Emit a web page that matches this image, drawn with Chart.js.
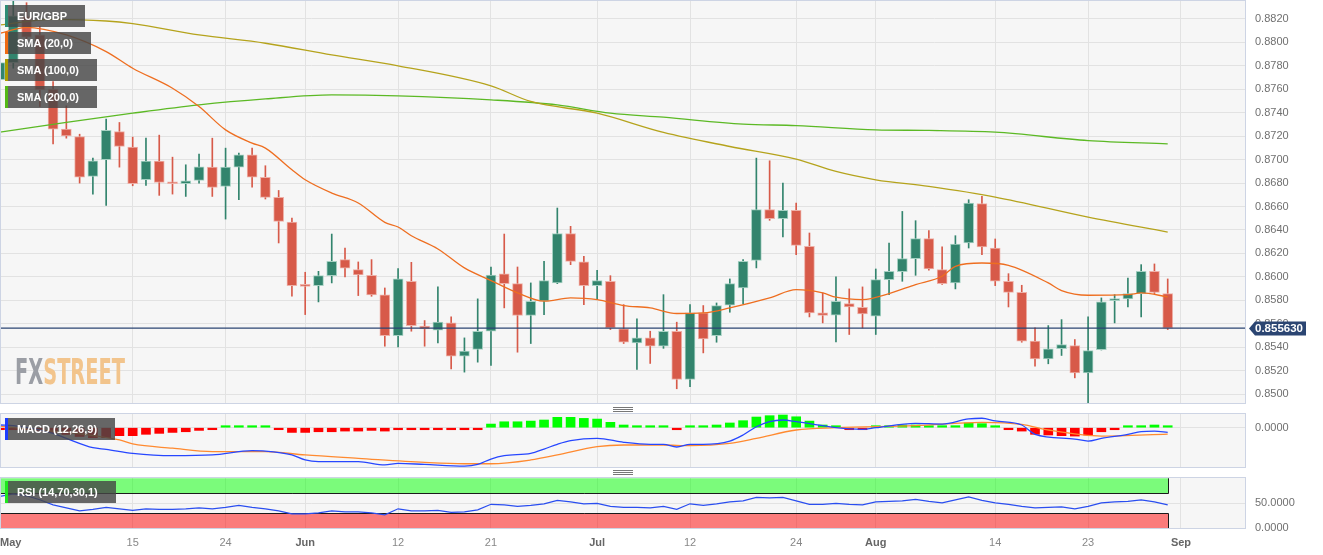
<!DOCTYPE html>
<html>
<head>
<meta charset="utf-8">
<title>EUR/GBP daily</title>
<script src="https://cdn.jsdelivr.net/npm/chart.js@4.4.0/dist/chart.umd.min.js"></script>
<style>
  body { margin: 0; background: #fff; font-family: "Liberation Sans", Arial, sans-serif; }
  #wrap { position: relative; width: 1323px; height: 555px; overflow: hidden; }
  canvas { position: absolute; left: 0; }
  .tag { position: absolute; left: 5px; height: 22px; line-height: 22px; padding: 0 18px 0 9px;
         border-left: 3px solid; background: rgba(70,70,70,0.82); color: #fff;
         font-size: 11px; font-weight: bold; white-space: nowrap; }
  .grip { position: absolute; left: 613px; width: 20px; height: 3px;
          border-top: 1px solid #777; border-bottom: 1px solid #777; }
  .grip:after { content: ''; position: absolute; left: 0; right: 0; top: 1px; border-top: 1px solid #777; }
</style>
</head>
<body>
<div id="wrap">
  <canvas id="main" width="1323" height="405" style="top:0"></canvas>
  <canvas id="macd" width="1323" height="55" style="top:413px"></canvas>
  <canvas id="rsi" width="1323" height="79" style="top:476px"></canvas>

  <div class="tag" style="top:5px;border-color:#2d8c74">EUR/GBP</div>
  <div class="tag" style="top:32px;border-color:#ee6a12">SMA (20,0)</div>
  <div class="tag" style="top:59px;border-color:#ab9c00">SMA (100,0)</div>
  <div class="tag" style="top:86px;border-color:#53b816">SMA (200,0)</div>
  <div class="tag" style="top:418px;border-color:#1c3dff">MACD (12,26,9)</div>
  <div class="tag" style="top:481px;border-color:#1ee81e">RSI (14,70,30,1)</div>
  <div class="grip" style="top:407px"></div>
  <div class="grip" style="top:470px"></div>
</div>

<script>
// trading days from 1 May to 31 Aug 2023, index 0 = May 1
const tickIdx = [0, 10, 17, 23, 30, 37, 45, 52, 60, 66, 75, 82, 89];
const tickLabels = ['May', '15', '24', 'Jun', '12', '21', 'Jul', '12', '24', 'Aug', '14', '23', 'Sep'];
const monthLabels = ['May', 'Jun', 'Jul', 'Aug', 'Sep'];
const priceTicks = [0.850, 0.852, 0.854, 0.856, 0.858, 0.860, 0.862, 0.864, 0.866, 0.868,
                    0.870, 0.872, 0.874, 0.876, 0.878, 0.880, 0.882];
const xMax = 93.9;

const open = [0.87683, 0.87828, 0.88220, 0.88064, 0.87601, 0.87260, 0.87197, 0.86857, 0.86999, 0.87240,
              0.87107, 0.86828, 0.86987, 0.86803, 0.86794, 0.86823, 0.86936, 0.86771, 0.86936, 0.87041,
              0.86848, 0.86678, 0.86468, 0.85920, 0.85925, 0.86010, 0.86147, 0.86062, 0.86013, 0.85846,
              0.85499, 0.85962, 0.85579, 0.85545, 0.85607, 0.85323, 0.85380, 0.85536, 0.86025, 0.85942,
              0.85670, 0.85792, 0.85948, 0.86368, 0.86127, 0.85925, 0.85962, 0.85556, 0.85437, 0.85479,
              0.85408, 0.85536, 0.85124, 0.85692, 0.85499, 0.85758, 0.85905, 0.86141, 0.86573, 0.86496,
              0.86567, 0.86260, 0.85692, 0.85672, 0.85772, 0.85740, 0.85664, 0.85976, 0.86044, 0.86155,
              0.86326, 0.86062, 0.85948, 0.86289, 0.86624, 0.86246, 0.85962, 0.85868, 0.85451, 0.85300,
              0.85388, 0.85414, 0.85181, 0.85379, 0.85797, 0.85812, 0.85857, 0.86047, 0.85857];
const high = [0.87880, 0.88355, 0.88339, 0.88135, 0.87666, 0.87459, 0.87217, 0.87013, 0.87345, 0.87317,
              0.87192, 0.87183, 0.87209, 0.87021, 0.86956, 0.87047, 0.87183, 0.87098, 0.87055, 0.87098,
              0.86948, 0.86737, 0.86502, 0.86039, 0.86047, 0.86365, 0.86246, 0.86127, 0.86147, 0.85905,
              0.86070, 0.86124, 0.85627, 0.85914, 0.85658, 0.85479, 0.85812, 0.86084, 0.86365, 0.86084,
              0.85948, 0.86132, 0.86587, 0.86431, 0.86175, 0.86056, 0.86010, 0.85763, 0.85641, 0.85536,
              0.85848, 0.85613, 0.85763, 0.85755, 0.85777, 0.85982, 0.86147, 0.87013, 0.86990, 0.86800,
              0.86630, 0.86374, 0.85863, 0.85999, 0.85897, 0.85914, 0.86067, 0.86289, 0.86558, 0.86479,
              0.86394, 0.86255, 0.86351, 0.86658, 0.86686, 0.86323, 0.86027, 0.85928, 0.85564, 0.85584,
              0.85635, 0.85465, 0.85658, 0.85820, 0.85848, 0.85990, 0.86104, 0.86110, 0.85982];
const low = [0.87600, 0.87780, 0.88021, 0.87453, 0.87135, 0.87183, 0.86800, 0.86706, 0.86610, 0.86936,
             0.86777, 0.86780, 0.86695, 0.86706, 0.86686, 0.86800, 0.86686, 0.86493, 0.86658, 0.86766,
             0.86664, 0.86289, 0.85834, 0.85678, 0.85786, 0.85948, 0.85999, 0.85840, 0.85834, 0.85408,
             0.85402, 0.85536, 0.85408, 0.85437, 0.85215, 0.85187, 0.85272, 0.85244, 0.85735, 0.85357,
             0.85431, 0.85678, 0.85942, 0.86104, 0.85763, 0.85806, 0.85550, 0.85431, 0.85209, 0.85261,
             0.85390, 0.85045, 0.85062, 0.85351, 0.85442, 0.85698, 0.85772, 0.86076, 0.86482, 0.86340,
             0.86189, 0.85658, 0.85607, 0.85445, 0.85508, 0.85564, 0.85508, 0.85848, 0.85962, 0.86013,
             0.86056, 0.85936, 0.85897, 0.86246, 0.86189, 0.85925, 0.85743, 0.85442, 0.85238, 0.85258,
             0.85329, 0.85138, 0.84925, 0.85376, 0.85607, 0.85743, 0.85658, 0.85857, 0.85550];
const close = [0.87828, 0.88226, 0.88044, 0.87595, 0.87260, 0.87203, 0.86851, 0.86990, 0.87249, 0.87112,
               0.86794, 0.86987, 0.86806, 0.86794, 0.86820, 0.86939, 0.86763, 0.86936, 0.87041, 0.86851,
               0.86678, 0.86473, 0.85925, 0.85919, 0.86010, 0.86132, 0.86073, 0.86016, 0.85846, 0.85499,
               0.85982, 0.85584, 0.85556, 0.85613, 0.85323, 0.85366, 0.85536, 0.86016, 0.85942, 0.85670,
               0.85792, 0.85968, 0.86368, 0.86132, 0.85925, 0.85968, 0.85564, 0.85442, 0.85479, 0.85408,
               0.85536, 0.85124, 0.85692, 0.85471, 0.85755, 0.85942, 0.86132, 0.86573, 0.86496, 0.86567,
               0.86269, 0.85692, 0.85670, 0.85792, 0.85743, 0.85684, 0.85976, 0.86047, 0.86155, 0.86326,
               0.86067, 0.85942, 0.86280, 0.86630, 0.86255, 0.85962, 0.85868, 0.85451, 0.85300, 0.85386,
               0.85422, 0.85181, 0.85371, 0.85786, 0.85809, 0.85857, 0.86047, 0.85868, 0.85563];

// moving averages, [day index, value]
const sma20 = [[0, 0.88078], [2, 0.88129], [5, 0.88064], [8, 0.87922], [10, 0.87780], [13, 0.87609],
               [15, 0.87453], [17, 0.87254], [19, 0.87141], [20, 0.87098], [22, 0.86913], [23, 0.86828],
               [25, 0.86715], [27, 0.86630], [29, 0.86465], [30, 0.86425], [31, 0.86351], [33, 0.86238],
               [35, 0.86076], [37, 0.85968], [39, 0.85863], [41, 0.85792], [43, 0.85820], [45, 0.85806],
               [47, 0.85755], [49, 0.85735], [51, 0.85687], [53, 0.85692], [55, 0.85735], [58, 0.85820],
               [60, 0.85891], [62, 0.85863], [63, 0.85826], [65, 0.85806], [67, 0.85857], [69, 0.85934],
               [71, 0.86005], [72, 0.86090], [74, 0.86118], [76, 0.86098], [79, 0.85948], [80, 0.85883],
               [82, 0.85843], [85, 0.85848], [86, 0.85863], [88, 0.85829]];
const sma100 = [[0, 0.88149], [4, 0.88197], [8, 0.88183], [10, 0.88160], [15, 0.88064], [20, 0.87993],
                [25, 0.87893], [30, 0.87800], [37, 0.87629], [40, 0.87496], [45, 0.87396], [50, 0.87232],
                [55, 0.87112], [60, 0.87004], [63, 0.86899], [66, 0.86828], [70, 0.86771], [75, 0.86681],
                [82, 0.86510], [88, 0.86382]];
const sma200 = [[0, 0.87234], [5, 0.87317], [10, 0.87396], [15, 0.87467], [20, 0.87518], [25, 0.87552],
                [30, 0.87544], [37, 0.87510], [42, 0.87467], [46, 0.87396], [50, 0.87362], [56, 0.87303],
                [60, 0.87291], [66, 0.87254], [70, 0.87249], [75, 0.87234], [82, 0.87163], [88, 0.87135]];

// MACD (12,26,9)
const macdLine = [[0, 0.00020], [1, 0.00015], [4, -0.00042], [5, -0.00079], [7, -0.00148], [8, -0.00160],
                  [10, -0.00190], [13, -0.00207], [16, -0.00202], [19, -0.00170], [20, -0.00173], [22, -0.00202],
                  [23, -0.00239], [24, -0.00251], [27, -0.00251], [29, -0.00276], [30, -0.00264], [32, -0.00272],
                  [35, -0.00284], [36, -0.00272], [37, -0.00232], [38, -0.00207], [40, -0.00190], [41, -0.00158],
                  [42, -0.00123], [43, -0.00096], [45, -0.00079], [47, -0.00108], [49, -0.00123], [50, -0.00123],
                  [51, -0.00143], [52, -0.00123], [53, -0.00123], [55, -0.00099], [56, -0.00054], [57, 0.00007],
                  [58, 0.00045], [59, 0.00057], [60, 0.00045], [62, 0.00015], [63, 0.00000], [65, -0.00012],
                  [66, 0.00000], [69, 0.00032], [71, 0.00027], [73, 0.00065], [74, 0.00070], [75, 0.00050],
                  [77, 0.00020], [78, -0.00049], [81, -0.00084], [82, -0.00099], [83, -0.00079], [85, -0.00049],
                  [86, -0.00029], [87, -0.00025], [88, -0.00035]];
const signalLine = [[0, 0.00012], [9, -0.00091], [10, -0.00120], [13, -0.00152], [16, -0.00177], [19, -0.00177],
                    [20, -0.00177], [23, -0.00202], [27, -0.00227], [32, -0.00257], [35, -0.00267], [37, -0.00267],
                    [40, -0.00239], [42, -0.00202], [45, -0.00140], [47, -0.00128], [50, -0.00128], [52, -0.00133],
                    [55, -0.00116], [57, -0.00079], [60, -0.00017], [63, 0.00000], [69, 0.00015], [74, 0.00040],
                    [77, 0.00025], [79, -0.00017], [83, -0.00062], [88, -0.00047]];
const macdHist = [-0.00005, -0.00008, -0.00015, -0.00025, -0.00035, -0.00050, -0.00065, -0.00074, -0.00074, -0.00059,
                  -0.00059, -0.00049, -0.00042, -0.00035, -0.00030, -0.00020, -0.00010, 0.00005, 0.00010, 0.00010,
                  0.00005, -0.00005, -0.00035, -0.00035, -0.00030, -0.00030, -0.00025, -0.00025, -0.00020, -0.00025,
                  -0.00015, -0.00015, -0.00015, -0.00015, -0.00015, -0.00015, -0.00005, 0.00027, 0.00044, 0.00044,
                  0.00049, 0.00057, 0.00077, 0.00077, 0.00069, 0.00064, 0.00040, 0.00020, 0.00010, 0.00003,
                  0.00003, -0.00015, 0.00003, 0.00005, 0.00020, 0.00035, 0.00052, 0.00079, 0.00089, 0.00094,
                  0.00081, 0.00049, 0.00020, 0.00010, -0.00005, -0.00010, 0.00003, 0.00005, 0.00020, 0.00020,
                  0.00010, 0.00015, 0.00015, 0.00035, 0.00030, 0.00010, -0.00005, -0.00025, -0.00049, -0.00054,
                  -0.00059, -0.00062, -0.00054, -0.00030, -0.00015, 0.00002, 0.00015, 0.00020, 0.00010];

// RSI (14)
const rsi = [64, 69, 65, 57, 47, 41, 35, 38, 42, 39,
             36, 39, 38, 38, 39, 41, 39, 42, 46, 42,
             39, 35, 29, 29, 31, 35, 33, 33, 31, 27,
             39, 35, 35, 36, 32, 33, 37, 48, 47, 44,
             46, 49, 56, 53, 49, 50, 44, 42, 42, 41,
             44, 38, 49, 46, 49, 53, 55, 62, 61, 62,
             55, 48, 48, 50, 48, 47, 53, 54, 55, 58,
             54, 51, 57, 63, 56, 51, 48, 44, 41, 42,
             43, 39, 44, 51, 53, 54, 57, 53, 47];
const rsiUpper = 70;
const rsiLower = 30;

const lastPrice = close[close.length - 1];

Chart.defaults.font.family = '"Liberation Sans", Arial, sans-serif';
Chart.defaults.font.size = 11;
Chart.defaults.color = '#707070';

const gridColor = '#e2e2e2';
const upCol = '#32846d', downCol = '#d75a49';
const upEdge = '#a6d1c3', downEdge = '#eeb0a7';
const candleCol = close.map((c, i) => c >= open[i] ? upCol : downCol);
const candleEdge = close.map((c, i) => c >= open[i] ? upEdge : downEdge);

function pts(list) {
    return list.map(p => ({x: p[0], y: p[1]}));
}

function xAxis(showLabels) {
    return {
        type: 'linear', min: 0, max: xMax, offset: false,
        afterBuildTicks: s => { s.ticks = tickIdx.map(v => ({value: v})).concat([{value: xMax}]); },
        grid: { color: c => (c.tick && c.tick.value === xMax) ? 'rgba(0,0,0,0)' : gridColor, drawTicks: false, offset: false },
        border: { display: false },
        ticks: {
            display: showLabels, autoSkip: false, maxRotation: 0, align: 'inner', padding: 7,
            callback: (v, i) => tickLabels[i] || '',
            font: c => ({ size: 11, weight: monthLabels.includes(tickLabels[c.index]) ? 'bold' : 'normal' }),
            color: c => monthLabels.includes(tickLabels[c.index]) ? '#666' : '#888'
        },
        afterFit: s => {
            s.height = showLabels ? 26 : 0;
            s.paddingLeft = 0; s.paddingRight = 0;
        }
    };
}

function yAxis(min, max, ticks) {
    return {
        position: 'right', min: min, max: max,
        afterBuildTicks: s => { s.ticks = ticks.map(v => ({value: v})); },
        grid: { color: gridColor, drawTicks: false },
        border: { display: false },
        ticks: { padding: 9, color: '#707070', callback: v => v.toFixed(4) },
        afterFit: s => {
            s.width = 77;
            s.paddingTop = 0; s.paddingBottom = 0;
        }
    };
}

const panelBg = {
    id: 'panelBg',
    beforeDraw(chart) {
        const {ctx, chartArea: a} = chart;
        ctx.save();
        ctx.fillStyle = '#f6f6f6';
        ctx.fillRect(a.left, a.top, a.right - a.left, a.bottom - a.top);
        ctx.restore();
    },
    afterDraw(chart) {
        const {ctx, chartArea: a} = chart;
        ctx.save();
        ctx.strokeStyle = '#cdd4e4';
        ctx.lineWidth = 1;
        ctx.strokeRect(a.left + 0.5, a.top + 0.5, a.right - a.left - 1, a.bottom - a.top - 1);
        ctx.restore();
    }
};

const watermark = {
    id: 'watermark',
    beforeDatasetsDraw(chart) {
        const ctx = chart.ctx;
        ctx.save();
        ctx.font = 'bold 36px "DejaVu Sans"';
        const w1 = ctx.measureText('FX').width;
        const w2 = ctx.measureText('STREET').width;
        ctx.translate(15, 384);
        ctx.scale(110 / (w1 + w2), 1);
        ctx.fillStyle = '#9b9ea5';
        ctx.fillText('FX', 0, 0);
        ctx.fillStyle = '#f2c48c';
        ctx.fillText('STREET', w1, 0);
        ctx.restore();
    }
};

const priceTag = {
    id: 'priceTag',
    afterDraw(chart) {
        const {ctx, chartArea: a} = chart;
        const y = Math.round(chart.scales.y.getPixelForValue(lastPrice)) + 0.5;
        const x0 = a.right + 3;
        ctx.save();
        ctx.fillStyle = '#2b4572';
        ctx.beginPath();
        ctx.moveTo(x0, y);
        ctx.lineTo(x0 + 6, y - 7);
        ctx.lineTo(1306, y - 7);
        ctx.lineTo(1306, y + 7);
        ctx.lineTo(x0 + 6, y + 7);
        ctx.closePath();
        ctx.fill();
        ctx.fillStyle = '#fff';
        ctx.font = 'bold 11.5px "Liberation Sans", Arial, sans-serif';
        ctx.textBaseline = 'middle';
        ctx.fillText(lastPrice.toFixed(6), x0 + 6, y + 0.5);
        ctx.restore();
    }
};

const rsiZones = {
    id: 'rsiZones',
    beforeDatasetsDraw(chart) {
        const {ctx, scales: {x, y}} = chart;
        const x0 = x.getPixelForValue(0);
        const x1 = Math.round(x.getPixelForValue(rsi.length - 1)) + 0.5;
        const yTop = y.getPixelForValue(100);
        const yUp = Math.round(y.getPixelForValue(rsiUpper)) + 0.5;
        const yLo = Math.round(y.getPixelForValue(rsiLower)) + 0.5;
        const yBot = y.getPixelForValue(0);
        ctx.save();
        ctx.fillStyle = 'rgba(0,255,0,0.5)';
        ctx.fillRect(x0, yTop, x1 - x0, yUp - yTop);
        ctx.fillStyle = 'rgba(255,0,0,0.5)';
        ctx.fillRect(x0, yLo, x1 - x0, yBot - yLo);
        ctx.strokeStyle = '#1a1a1a';
        ctx.lineWidth = 1;
        ctx.beginPath();
        ctx.moveTo(x0, yUp); ctx.lineTo(x1, yUp); ctx.lineTo(x1, yTop);
        ctx.moveTo(x0, yLo); ctx.lineTo(x1, yLo); ctx.lineTo(x1, yBot);
        ctx.stroke();
        ctx.restore();
    }
};

const common = {
    responsive: false,
    animation: false,
    plugins: { legend: { display: false }, tooltip: { enabled: false } }
};

function smaSet(list, color, order) {
    return { type: 'line', data: pts(list), borderColor: color, borderWidth: 1.3, pointRadius: 0,
             cubicInterpolationMode: 'monotone', order: order };
}

new Chart(document.getElementById('main'), {
    type: 'bar',
    data: {
        datasets: [
            { type: 'line', data: [{x: 0, y: lastPrice}, {x: xMax, y: lastPrice}], borderColor: '#2b4572',
              borderWidth: 1.3, pointRadius: 0, order: 1 },
            smaSet(sma20, '#ee6e20', 2),
            smaSet(sma100, '#b5a31c', 3),
            smaSet(sma200, '#5cb925', 4),
            { data: open.map((o, i) => ({x: i, y: [o, close[i]]})), backgroundColor: candleCol,
              borderColor: candleEdge, borderWidth: 1, borderSkipped: false, barThickness: 10,
              minBarLength: 2, grouped: false, order: 5 },
            { data: high.map((h, i) => ({x: i, y: [low[i], h]})), backgroundColor: candleCol,
              barThickness: 1, grouped: false, order: 6 }
        ]
    },
    options: Object.assign({}, common, {
        layout: { padding: { top: 0, bottom: 1, left: 0, right: 0 } },
        scales: { x: xAxis(false), y: yAxis(0.84915, 0.88362, priceTicks) }
    }),
    plugins: [panelBg, watermark, priceTag]
});

new Chart(document.getElementById('macd'), {
    type: 'bar',
    data: {
        datasets: [
            { type: 'line', data: pts(macdLine), borderColor: '#2747ff', borderWidth: 1.3, pointRadius: 0,
              cubicInterpolationMode: 'monotone', order: 1 },
            { type: 'line', data: pts(signalLine), borderColor: '#ff8a30', borderWidth: 1.3, pointRadius: 0,
              cubicInterpolationMode: 'monotone', order: 2 },
            { data: macdHist.map((v, i) => ({x: i, y: v})),
              backgroundColor: macdHist.map(v => v >= 0 ? '#00ff00' : '#ff0000'),
              barThickness: 9, minBarLength: 2, grouped: false, order: 3 }
        ]
    },
    options: Object.assign({}, common, {
        layout: { padding: 0 },
        scales: { x: xAxis(false), y: yAxis(-0.002985, 0.001089, [0]) }
    }),
    plugins: [panelBg]
});

new Chart(document.getElementById('rsi'), {
    type: 'line',
    data: {
        datasets: [
            { data: rsi.map((v, i) => ({x: i, y: v})), borderColor: '#2a4ef0', borderWidth: 1.2,
              pointRadius: 0, tension: 0 }
        ]
    },
    options: Object.assign({}, common, {
        layout: { padding: { top: 1, bottom: 0, left: 0, right: 0 } },
        scales: { x: xAxis(true), y: yAxis(-1.4, 102.6, [0, 50]) }
    }),
    plugins: [panelBg, rsiZones]
});
</script>
</body>
</html>
